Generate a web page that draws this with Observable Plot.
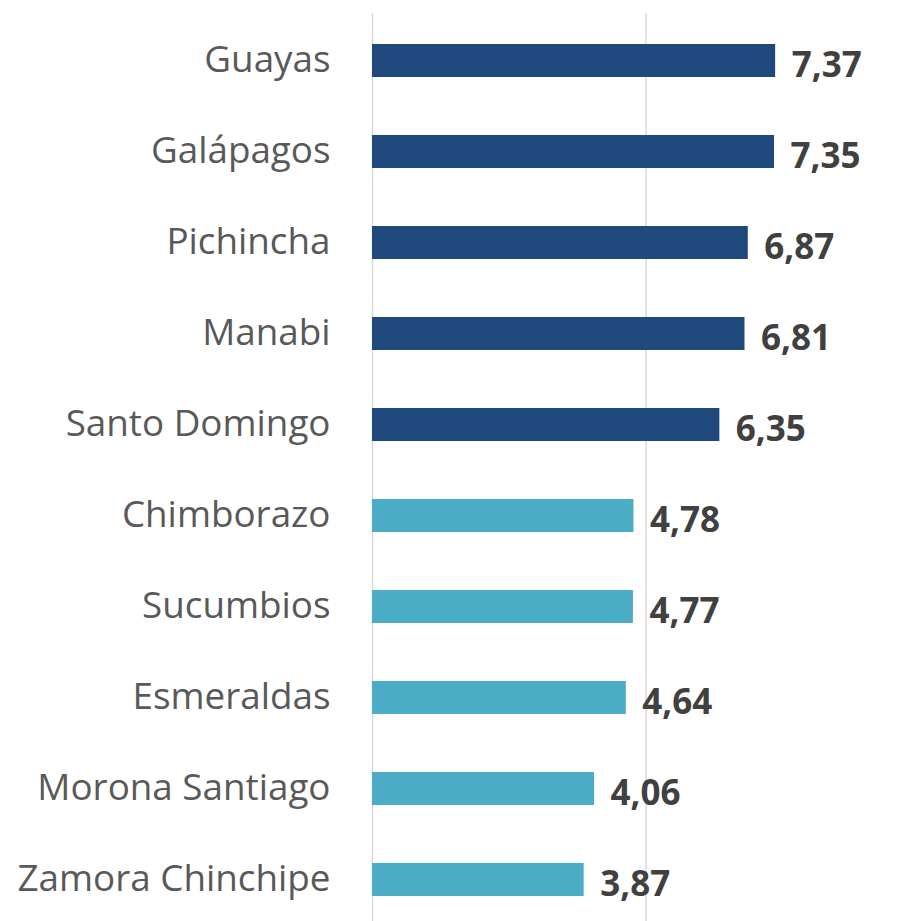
<!DOCTYPE html>
<html>
<head>
<meta charset="utf-8">
<script src="https://cdn.jsdelivr.net/npm/d3@7"></script>
<script src="https://cdn.jsdelivr.net/npm/@observablehq/plot@0.6"></script>
<style>
  html, body { margin: 0; padding: 0; background: #fff; }
  #chart svg { display: block; }
</style>
</head>
<body>
<div id="chart"></div>
<script>
const provinces = ["Guayas", "Galápagos", "Pichincha", "Manabi", "Santo Domingo", "Chimborazo", "Sucumbios", "Esmeraldas", "Morona Santiago", "Zamora Chinchipe"];
const values = [7.37, 7.35, 6.87, 6.81, 6.35, 4.78, 4.77, 4.64, 4.06, 3.87];
const groups = ["top", "top", "top", "top", "top", "rest", "rest", "rest", "rest", "rest"];
const gridTicks = [0, 5];

const data = provinces.map((p, i) => ({province: p, value: values[i], group: groups[i]}));
const fmt = v => v.toFixed(2).replace(".", ",");

const chart = Plot.plot({
  width: 902,
  height: 921,
  marginTop: 13,
  marginBottom: 0,
  marginLeft: 372,
  marginRight: 0,
  style: {fontFamily: "'Open Sans', sans-serif", background: "#fff"},
  x: {domain: [0, 5], range: [372, 645.5], axis: null},
  y: {domain: provinces, range: [13.8, 926.8], paddingInner: 0.64, paddingOuter: 0.32, label: null},
  color: {domain: ["top", "rest"], range: ["#1f497d", "#4bacc6"]},
  marks: [
    Plot.ruleX(gridTicks, {stroke: "#d9d9d9", strokeWidth: 1.5}),
    Plot.barX(data, {x: "value", y: "province", fill: "group"}),
    Plot.text(data, {x: "value", y: "province", text: d => fmt(d.value), textAnchor: "start", dx: 16, dy: 5, fontSize: 35, fontWeight: "bold", fill: "#404040"}),
    Plot.axisY({tickSize: 0, tickPadding: 42, fontSize: 36.8, dy: -1, color: "#595959", label: null})
  ]
});
document.getElementById("chart").appendChild(chart);
</script>
</body>
</html>
